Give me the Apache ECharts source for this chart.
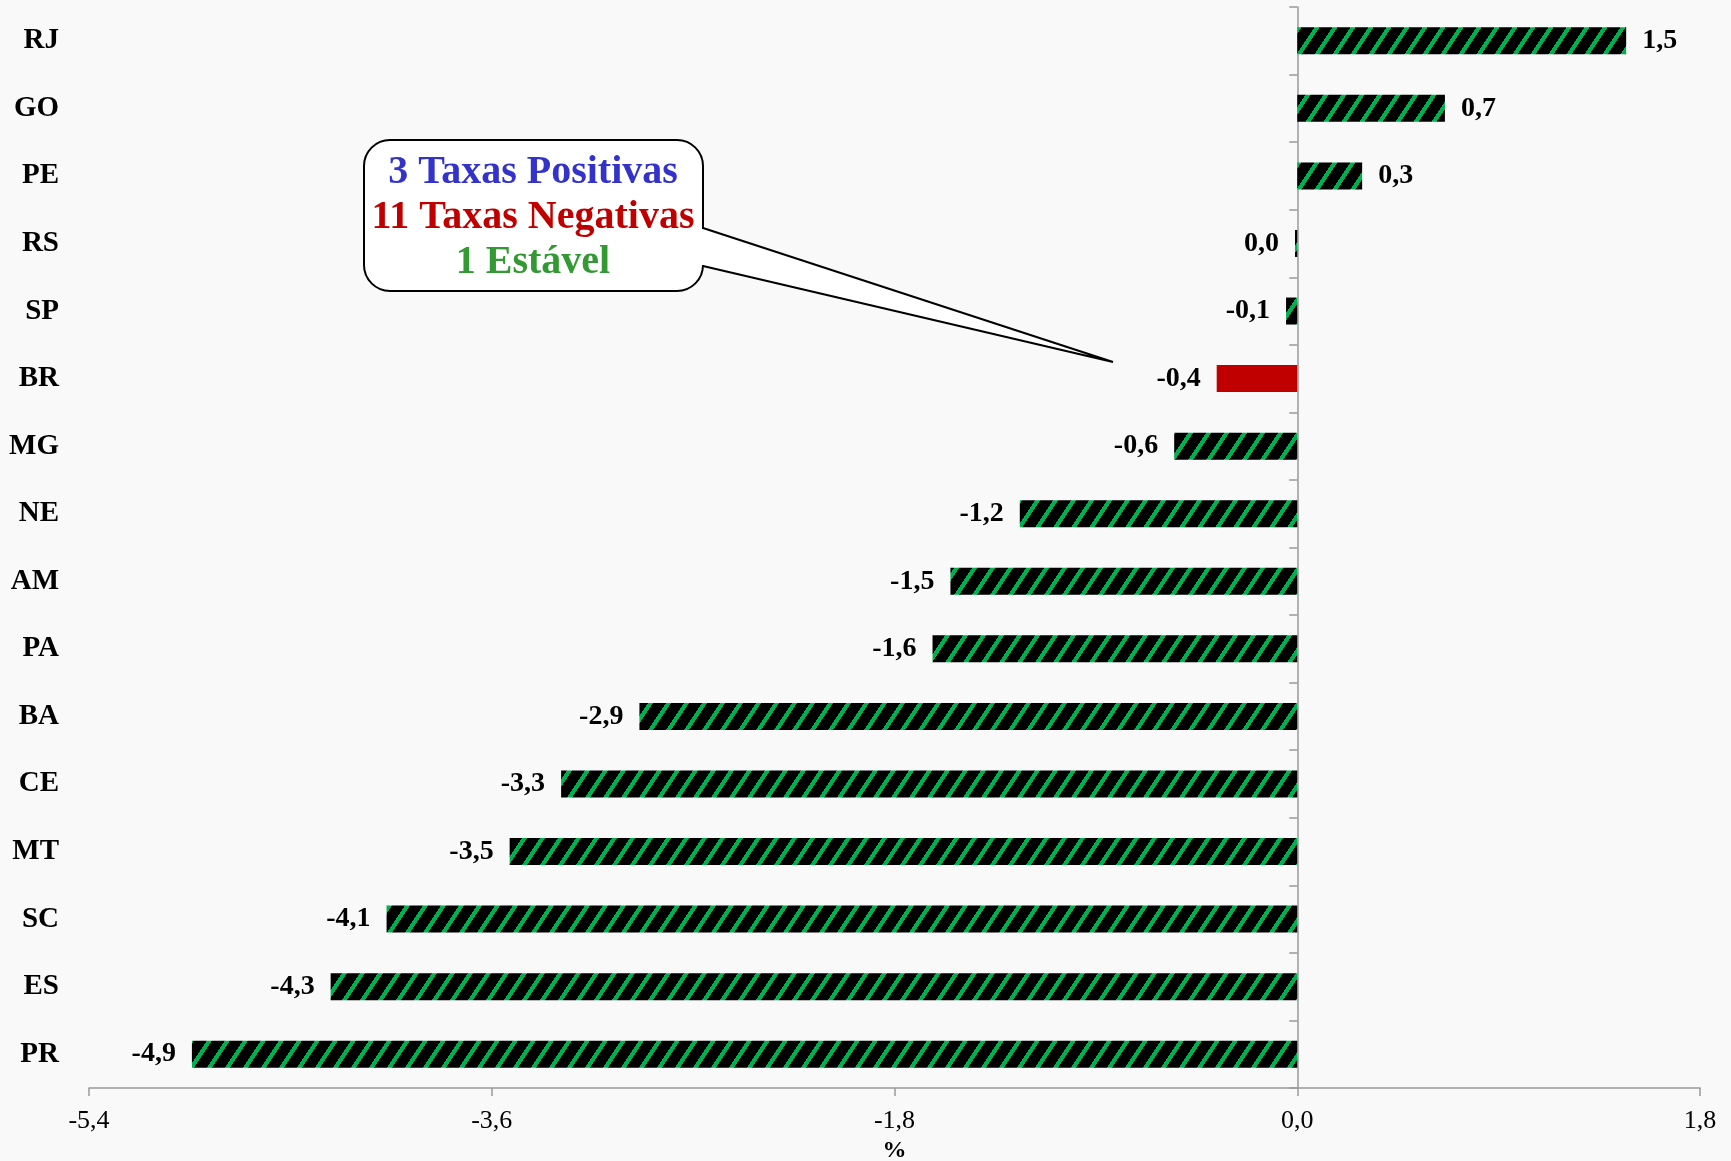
<!DOCTYPE html>
<html>
<head>
<meta charset="utf-8">
<script src="https://cdn.jsdelivr.net/npm/echarts@6/dist/echarts.min.js"></script>
<style>
  html, body { margin: 0; padding: 0; background: #f9f9f9; }
  #chart { width: 1731px; height: 1161px; }
</style>
</head>
<body>
<div id="chart"></div>
<script>
const categories = ['RJ', 'GO', 'PE', 'RS', 'SP', 'BR', 'MG', 'NE', 'AM', 'PA', 'BA', 'CE', 'MT', 'SC', 'ES', 'PR']
const values = [1.47, 0.66, 0.29, -0.01, -0.05, -0.36, -0.55, -1.24, -1.55, -1.63, -2.94, -3.29, -3.52, -4.07, -4.32, -4.94]
const valueLabels = ['1,5', '0,7', '0,3', '0,0', '-0,1', '-0,4', '-0,6', '-1,2', '-1,5', '-1,6', '-2,9', '-3,3', '-3,5', '-4,1', '-4,3', '-4,9']
const highlight = 'BR'
const calloutLines = ['3 Taxas Positivas', '11 Taxas Negativas', '1 Estável']

const FONT = '"Liberation Serif", "DejaVu Serif", serif'

// hachura verde/preta (listras "/" inclinadas) como no original
function makeHatch() {
  const w = 18, h = 27
  const c = document.createElement('canvas')
  c.width = w
  c.height = h
  const ctx = c.getContext('2d')
  for (let x = 0; x < w; x++) {
    for (let y = 0; y < h; y++) {
      const t = (x + Math.floor(y * 2 / 3)) % w
      ctx.fillStyle = t < 5 ? '#00b050' : '#000000'
      ctx.fillRect(x, y, 1, 1)
    }
  }
  return { image: c, repeat: 'repeat' }
}
const hatch = makeHatch()

const barData = values.map((v, i) => ({
  value: v,
  itemStyle: { color: categories[i] === highlight ? '#c00000' : hatch },
  label: { position: v < 0 ? 'left' : 'right', formatter: valueLabels[i] }
}))

const chart = echarts.init(document.getElementById('chart'))
chart.setOption({
  backgroundColor: '#f9f9f9',
  animation: false,
  grid: { left: 89, right: 31, top: 7, bottom: 73, containLabel: false, outerBoundsMode: 'none' },
  xAxis: {
    type: 'value',
    min: -5.4,
    max: 1.8,
    interval: 1.8,
    name: '%',
    nameLocation: 'middle',
    nameGap: 50,
    nameTextStyle: { fontFamily: FONT, fontWeight: 'bold', fontSize: 24, color: '#000' },
    axisLine: { show: true, onZero: false, lineStyle: { color: '#999', width: 1.5 } },
    axisTick: { show: true, length: 8, lineStyle: { color: '#999', width: 1.5 } },
    splitLine: { show: false },
    axisLabel: {
      fontFamily: FONT, fontSize: 26, color: '#000', margin: 20,
      formatter: v => v.toFixed(1).replace('.', ',')
    }
  },
  yAxis: [
    {
      type: 'category',
      data: categories,
      inverse: true,
      axisLine: { show: false, onZero: false },
      axisTick: { show: false },
      axisLabel: { fontFamily: FONT, fontWeight: 'bold', fontSize: 29, color: '#000', margin: 30 }
    },
    {
      type: 'category',
      data: categories,
      inverse: true,
      position: 'left',
      axisLine: { show: true, onZero: true, lineStyle: { color: '#999', width: 1.5 } },
      axisTick: { show: true, length: 8, lineStyle: { color: '#999', width: 1.5 } },
      axisLabel: { show: false }
    }
  ],
  series: [
    {
      type: 'bar',
      data: barData,
      barWidth: 27,
      label: {
        show: true,
        distance: 16,
        fontFamily: FONT,
        fontWeight: 'bold',
        fontSize: 28,
        color: '#000'
      }
    }
  ],
  graphic: [
    {
      type: 'rect',
      shape: { x: 364, y: 140, width: 339, height: 151, r: 26 },
      style: { fill: '#fff', stroke: '#000', lineWidth: 2 },
      z: 10
    },
    {
      type: 'polygon',
      shape: { points: [[698, 229], [704, 229], [1113, 362], [704, 265], [698, 265]] },
      style: { fill: '#fff' },
      z: 11
    },
    {
      type: 'polyline',
      shape: { points: [[703, 228], [1113, 362], [703, 266]] },
      style: { stroke: '#000', lineWidth: 2, fill: null },
      z: 12
    },
    {
      type: 'text',
      x: 533, y: 173, z: 13,
      style: { text: calloutLines[0], fill: '#3333cc', font: 'bold 40px ' + FONT, align: 'center', verticalAlign: 'middle' }
    },
    {
      type: 'text',
      x: 533, y: 218, z: 13,
      style: { text: calloutLines[1], fill: '#c00000', font: 'bold 40px ' + FONT, align: 'center', verticalAlign: 'middle' }
    },
    {
      type: 'text',
      x: 533, y: 263, z: 13,
      style: { text: calloutLines[2], fill: '#339933', font: 'bold 40px ' + FONT, align: 'center', verticalAlign: 'middle' }
    }
  ]
})
</script>
</body>
</html>
